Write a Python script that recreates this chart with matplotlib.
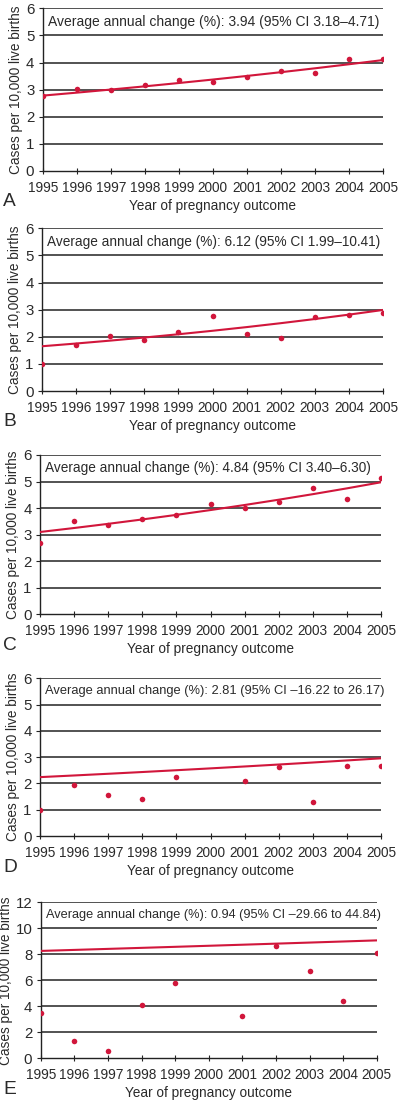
import numpy as np
import matplotlib
matplotlib.use("Agg")
import matplotlib.pyplot as plt

plt.rcParams['font.family'] = ['Liberation Sans', 'DejaVu Sans']

years = np.arange(1995, 2006)

rates_a = [2.78, 3.01, 3.00, 3.17, 3.34, 3.28, 3.48, 3.69, 3.63, 4.13, 4.13]
rates_b = [0.98, 1.70, 2.02, 1.89, 2.18, 2.78, 2.10, 1.96, 2.73, 2.79, 2.87]
rates_c = [2.70, 3.53, 3.36, 3.58, 3.75, 4.17, 4.01, 4.24, 4.74, 4.33, 5.14]
rates_d = [0.99, 1.94, 1.56, 1.41, 2.26, np.nan, 2.09, 2.63, 1.31, 2.68, 2.65]
rates_e = [3.49, 1.30, 0.58, 4.10, 5.79, np.nan, 3.23, 8.64, 6.72, 4.44, 8.08]

# fitted trend: start value in 1995 and average annual change (%)
fit_start = [2.78, 1.65, 3.10, 2.24, 8.26]
apc = [3.94, 6.12, 4.84, 2.81, 0.94]

labels = [
    "Average annual change (%): 3.94 (95% CI 3.18\u20134.71)",
    "Average annual change (%): 6.12 (95% CI 1.99\u201310.41)",
    "Average annual change (%): 4.84 (95% CI 3.40\u20136.30)",
    "Average annual change (%): 2.81 (95% CI \u201316.22 to 26.17)",
    "Average annual change (%): 0.94 (95% CI \u201329.66 to 44.84)",
]
letters = ["A", "B", "C", "D", "E"]
ymax = [6, 6, 6, 6, 12]
ystep = [1, 1, 1, 1, 2]
series = [rates_a, rates_b, rates_c, rates_d, rates_e]
note_size = [10.0, 9.85, 9.8, 9.25, 9.2]

# axes boxes in pixels: left, right, top, bottom
boxes = [
    (42.7, 383, 8.3, 171),
    (42, 383, 228.3, 391),
    (40, 381, 455, 614.3),
    (40, 381, 678.3, 836),
    (40.7, 376.7, 902.3, 1058.3),
]

W, H = 400, 1105
fig = plt.figure(figsize=(W / 100, H / 100), dpi=100)

red = '#d1163b'
txt = '#2a2a2a'
fs = 9.8

for i in range(5):
    l, r, t, b = boxes[i]
    ax = fig.add_axes([l / W, 1 - b / H, (r - l) / W, (b - t) / H])
    fit = fit_start[i] * (1 + apc[i] / 100) ** (years - 1995)
    ax.plot(years, fit, color=red, lw=1.5, zorder=3)
    ax.scatter(years, series[i], s=16, color=red, zorder=4, linewidths=0)
    ax.set_xlim(1995, 2005)
    ax.set_ylim(0, ymax[i])
    ax.set_yticks(np.arange(0, ymax[i] + 1, ystep[i]))
    ax.set_xticks(years)
    ax.set_xticklabels([str(y) for y in years])
    for v in np.arange(ystep[i], ymax[i] + 1, ystep[i]):
        ax.axhline(v, color='#444444', lw=1.3, zorder=1)
    for s in ['top', 'right']:
        ax.spines[s].set_visible(False)
    ax.spines['left'].set_color('#222222')
    ax.spines['bottom'].set_color('#222222')
    ax.spines['left'].set_linewidth(1.0)
    ax.spines['bottom'].set_linewidth(1.0)
    ax.tick_params(axis='x', direction='inout', length=4, width=0.8, pad=5,
                   labelsize=fs, colors='#222222', labelcolor=txt)
    ax.tick_params(axis='y', direction='out', length=3, width=0.8, pad=3,
                   labelsize=fs + 1, colors='#222222', labelcolor=txt)
    for lab in ax.get_xticklabels():
        lab.set_clip_on(False)
    ax.set_xlabel("Year of pregnancy outcome", fontsize=fs, color=txt, labelpad=3)
    ax.set_ylabel("Cases per 10,000 live births", fontsize=fs, color=txt, labelpad=2)
    ax.text(0.015, 1 - 0.5 / (ymax[i] / ystep[i]), labels[i], transform=ax.transAxes,
            fontsize=note_size[i], color=txt, va='center', ha='left', zorder=5)
    fig.text(3 / W, 1 - (b + 31) / H, letters[i], fontsize=fs + 4, color=txt,
             va='center', ha='left')

fig.savefig("out.png", dpi=100)
